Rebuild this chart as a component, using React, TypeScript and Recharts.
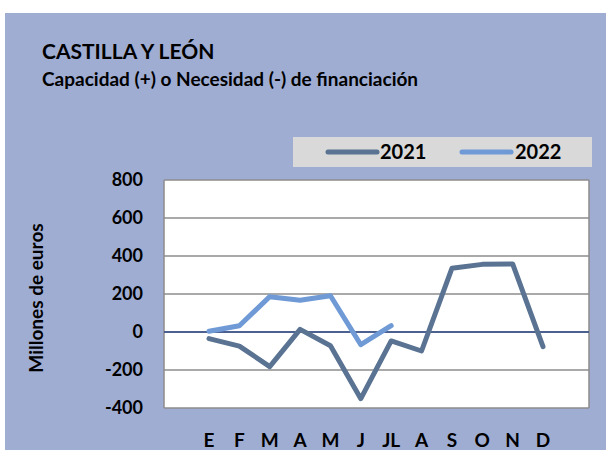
import React from "react";
import { LineChart, Line, XAxis, YAxis, CartesianGrid, ReferenceLine } from "recharts";

const months = ["E", "F", "M", "A", "M", "J", "JL", "A", "S", "O", "N", "D"];
const values2021 = [-35, -74, -182, 14, -72, -351, -47, -100, 335, 356, 358, -77];
const values2022: (number | null)[] = [4, 33, 186, 167, 191, -67, 33, null, null, null, null, null];
const yTicks = [-400, -200, 0, 200, 400, 600, 800];
const seriesNames = ["2021", "2022"];

const data = months.map((m, i) => ({ key: i, month: m, y2021: values2021[i], y2022: values2022[i] }));

const FONT = "Lato, 'Liberation Sans', sans-serif";
const BG = "#9FADD3";
const C2021 = "#5A7392";
const C2022 = "#6F9AD6";

const XTick = (props: any) => {
  const { x, y, payload } = props;
  return (
    <text x={x} y={y + 39} textAnchor="middle" fontFamily={FONT} fontWeight={700} fontSize={19} fill="#000">
      {months[payload.value]}
    </text>
  );
};

const YTick = (props: any) => {
  const { x, y, payload } = props;
  return (
    <text x={x - 21} y={y + 6} textAnchor="end" fontFamily={FONT} fontWeight={700} fontSize={18} fill="#000">
      {payload.value}
    </text>
  );
};

export default function App() {
  return (
    <div style={{ position: "absolute", left: 0, top: 0, width: 606, height: 450, background: "#fff" }}>
      <div style={{ position: "absolute", left: 5, top: 13, width: 601, height: 437, background: BG }} />
      <div style={{ position: "absolute", left: 0, top: 0 }}>
        <LineChart width={606} height={450} data={data} margin={{ top: 180, right: 17, left: 0, bottom: 2 }}>
          <CartesianGrid
            vertical={true}
            verticalPoints={[164, 589]}
            stroke="#8C8C8C"
            strokeWidth={1.5}
            fill="#FFFFFF"
            fillOpacity={1}
          />
          <XAxis
            dataKey="key"
            type="category"
            scale="point"
            padding={{ left: 45, right: 46 }}
            axisLine={false}
            tickLine={false}
            tickSize={0}
            tickMargin={0}
            height={40}
            interval={0}
            tick={<XTick />}
          />
          <YAxis
            domain={[-400, 800]}
            ticks={yTicks}
            width={164}
            axisLine={false}
            tickLine={false}
            tickSize={0}
            tickMargin={0}
            interval={0}
            tick={<YTick />}
          />
          <ReferenceLine y={0} stroke="#2F4A8A" strokeWidth={1.5} />
          <Line
            dataKey="y2021"
            name={seriesNames[0]}
            stroke={C2021}
            strokeWidth={5}
            dot={false}
            isAnimationActive={false}
            strokeLinejoin="round"
            strokeLinecap="round"
          />
          <Line
            dataKey="y2022"
            name={seriesNames[1]}
            stroke={C2022}
            strokeWidth={5}
            dot={false}
            isAnimationActive={false}
            strokeLinejoin="round"
            strokeLinecap="round"
          />
        </LineChart>
      </div>
      <svg width={606} height={450} style={{ position: "absolute", left: 0, top: 0, pointerEvents: "none" }}>
        <rect x={293} y={137} width={299} height={30} fill="#D9D9D9" />
        <line x1={328} x2={377} y1={152} y2={152} stroke={C2021} strokeWidth={5} strokeLinecap="round" />
        <text x={380} y={159} fontFamily={FONT} fontWeight={700} fontSize={20} fill="#000">{seriesNames[0]}</text>
        <line x1={462} x2={511} y1={152} y2={152} stroke={C2022} strokeWidth={5} strokeLinecap="round" />
        <text x={515} y={159} fontFamily={FONT} fontWeight={700} fontSize={20} fill="#000">{seriesNames[1]}</text>
        <text x={42} y={59} fontFamily={FONT} fontWeight={700} fontSize={21} fill="#000">CASTILLA Y LEÓN</text>
        <text x={42} y={86} fontFamily={FONT} fontWeight={700} fontSize={19} fill="#000">
          Capacidad (+) o Necesidad (-) de financiación
        </text>
        <text
          x={43}
          y={298}
          transform="rotate(-90 43 298)"
          textAnchor="middle"
          fontFamily={FONT}
          fontWeight={700}
          fontSize={19}
          fill="#000"
        >
          Millones de euros
        </text>
      </svg>
    </div>
  );
}
